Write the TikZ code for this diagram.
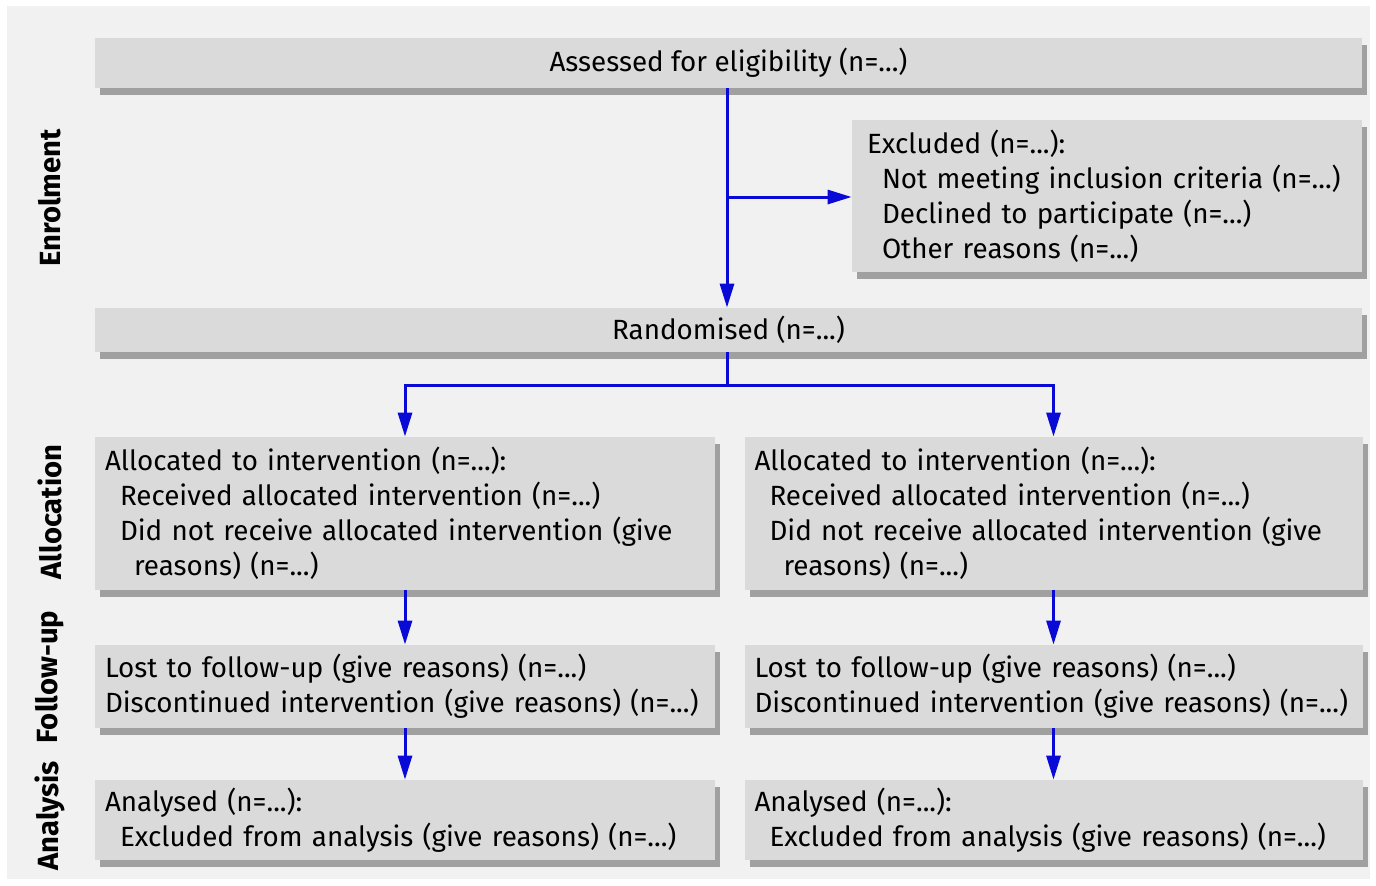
\documentclass[tikz,border=0pt]{standalone}
\usepackage{fontspec}
\setmainfont{Fira Sans}
\usetikzlibrary{arrows.meta,shadows}
\definecolor{bgc}{RGB}{241,241,241}
\definecolor{boxc}{RGB}{218,218,218}
\definecolor{shc}{RGB}{160,160,160}
\definecolor{arrc}{RGB}{10,10,215}
\newcommand{\txline}[2][0pt]{\mbox{\hspace*{#1}#2}}
\tikzset{
  box/.style={draw=none, fill=boxc, inner ysep=0pt, minimum height=#1,
    drop shadow={shadow xshift=2.5pt, shadow yshift=-3.5pt, fill=shc, opacity=1},
    font=\fontsize{13.9}{17.5}\selectfont},
  lbox/.style={box=#1, align=left, inner xsep=5pt, text width=300pt},
  side/.style={rotate=90, font=\fontsize{14.6}{16}\selectfont\bfseries},
  conn/.style={draw=arrc, line width=1.5pt},
  arr/.style={conn, -{Triangle[length=12pt,width=7pt]}}
}
\begin{document}
\begin{tikzpicture}[x=0.5pt,y=-0.5pt]
\useasboundingbox (0,0) rectangle (1376,885);
\fill[white] (0,0) rectangle (1376,885);
\fill[bgc] (7,6) rectangle (1370,879);

\node[box=25pt, minimum width=633.5pt, align=center] (assess) at (728.5,63) {Assessed for eligibility (n=...)};
\node[box=76pt, align=left, inner xsep=7.5pt, text width=240pt] (excl) at (1107,196)
  {\txline{Excluded (n=...):}\\
   \txline[7.5pt]{Not meeting inclusion criteria (n=...)}\\
   \txline[7.5pt]{Declined to participate (n=...)}\\
   \txline[7.5pt]{Other reasons (n=...)}};
\node[box=22pt, minimum width=633.5pt, align=center] (rand) at (728.5,330) {Randomised (n=...)};

\node[lbox=76.5pt] (allocL) at (405,513.5)
  {\txline{Allocated to intervention (n=...):}\\
   \txline[7.5pt]{Received allocated intervention (n=...)}\\
   \txline[7.5pt]{Did not receive allocated intervention (give}\\
   \txline[14.5pt]{reasons) (n=...)}};
\node[lbox=76.5pt, text width=299pt] (allocR) at (1053.5,513.5)
  {\txline{Allocated to intervention (n=...):}\\
   \txline[7.5pt]{Received allocated intervention (n=...)}\\
   \txline[7.5pt]{Did not receive allocated intervention (give}\\
   \txline[14.5pt]{reasons) (n=...)}};

\node[lbox=41.5pt] (fuL) at (405,686.5)
  {\txline{Lost to follow-up (give reasons) (n=...)}\\
   \txline{Discontinued intervention (give reasons) (n=...)}};
\node[lbox=41.5pt, text width=299pt] (fuR) at (1053.5,686.5)
  {\txline{Lost to follow-up (give reasons) (n=...)}\\
   \txline{Discontinued intervention (give reasons) (n=...)}};

\node[lbox=40pt] (anL) at (405,820)
  {\txline{Analysed (n=...):}\\
   \txline[7.5pt]{Excluded from analysis (give reasons) (n=...)}};
\node[lbox=40pt, text width=299pt] (anR) at (1053.5,820)
  {\txline{Analysed (n=...):}\\
   \txline[7.5pt]{Excluded from analysis (give reasons) (n=...)}};

\node[side] (s1) at (50,198) {Enrolment};
\node[side] (s2) at (50,512) {Allocation};
\node[side] (s3) at (50,677) {Follow-up};
\node[side] (s4) at (50,816) {Analysis};

\coordinate (br) at (727,197);
\coordinate (split) at (727,385);
\draw[arr] (assess.south -| br) -- (rand.north -| br);
\draw[arr] (br) -- (excl.west |- br);
\draw[conn] (rand.south -| split) -- (split);
\draw[arr] (split) -| (allocL.north);
\draw[arr] (split) -| (allocR.north);
\draw[arr] (allocL.south) -- (fuL.north);
\draw[arr] (allocR.south) -- (fuR.north);
\draw[arr] (fuL.south) -- (anL.north);
\draw[arr] (fuR.south) -- (anR.north);
\end{tikzpicture}
\end{document}
